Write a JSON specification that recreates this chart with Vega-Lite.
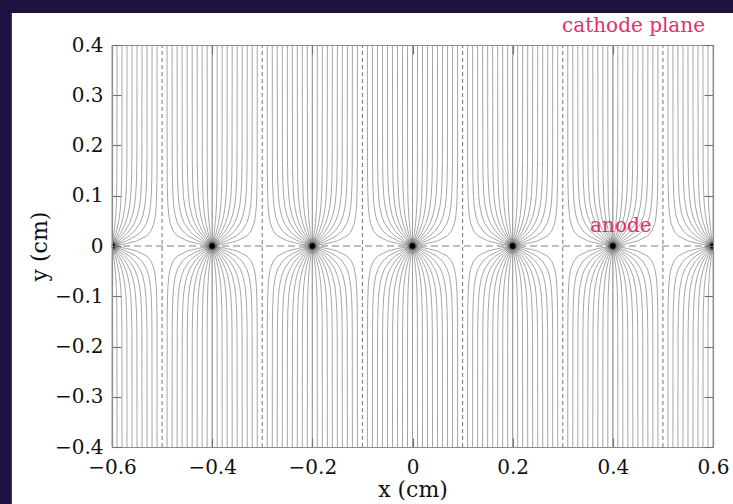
{
"$schema":"https://vega.github.io/schema/vega-lite/v6.json",
"autosize":{"type":"none"},
"width":601,"height":402,
"padding":{"left":112,"top":45,"right":20,"bottom":57},
"background":"#1d1240",
"data":{"values":[
{"l":0,"u":0,"y":0},{"l":0,"u":0,"y":0.4},
{"l":1,"u":0,"y":0},{"l":1,"u":0.0016,"y":0.01},{"l":1,"u":0.0031,"y":0.02},{"l":1,"u":0.0044,"y":0.03},{"l":1,"u":0.0061,"y":0.045},{"l":1,"u":0.0074,"y":0.06},{"l":1,"u":0.0085,"y":0.08},{"l":1,"u":0.0092,"y":0.1},{"l":1,"u":0.0097,"y":0.13},{"l":1,"u":0.0099,"y":0.17},{"l":1,"u":0.01,"y":0.4},
{"l":2,"u":0,"y":0},{"l":2,"u":0.0032,"y":0.01},{"l":2,"u":0.0063,"y":0.02},{"l":2,"u":0.009,"y":0.03},{"l":2,"u":0.0124,"y":0.045},{"l":2,"u":0.015,"y":0.06},{"l":2,"u":0.0172,"y":0.08},{"l":2,"u":0.0184,"y":0.1},{"l":2,"u":0.0194,"y":0.13},{"l":2,"u":0.0198,"y":0.17},{"l":2,"u":0.02,"y":0.4},
{"l":3,"u":0,"y":0},{"l":3,"u":0.005,"y":0.01},{"l":3,"u":0.0098,"y":0.02},{"l":3,"u":0.014,"y":0.03},{"l":3,"u":0.0191,"y":0.045},{"l":3,"u":0.0228,"y":0.06},{"l":3,"u":0.026,"y":0.08},{"l":3,"u":0.0278,"y":0.1},{"l":3,"u":0.0291,"y":0.13},{"l":3,"u":0.0298,"y":0.17},{"l":3,"u":0.03,"y":0.4},
{"l":4,"u":0,"y":0},{"l":4,"u":0.0072,"y":0.01},{"l":4,"u":0.0139,"y":0.02},{"l":4,"u":0.0197,"y":0.03},{"l":4,"u":0.0265,"y":0.045},{"l":4,"u":0.0313,"y":0.06},{"l":4,"u":0.0352,"y":0.08},{"l":4,"u":0.0374,"y":0.1},{"l":4,"u":0.039,"y":0.13},{"l":4,"u":0.0397,"y":0.17},{"l":4,"u":0.04,"y":0.4},
{"l":5,"u":0,"y":0},{"l":5,"u":0.005,"y":0.005},{"l":5,"u":0.0098,"y":0.01},{"l":5,"u":0.0188,"y":0.02},{"l":5,"u":0.0263,"y":0.03},{"l":5,"u":0.0348,"y":0.045},{"l":5,"u":0.0404,"y":0.06},{"l":5,"u":0.0449,"y":0.08},{"l":5,"u":0.0472,"y":0.1},{"l":5,"u":0.0489,"y":0.13},{"l":5,"u":0.0497,"y":0.17},{"l":5,"u":0.05,"y":0.4},
{"l":6,"u":0,"y":0},{"l":6,"u":0.0068,"y":0.005},{"l":6,"u":0.0135,"y":0.01},{"l":6,"u":0.0253,"y":0.02},{"l":6,"u":0.0346,"y":0.03},{"l":6,"u":0.0444,"y":0.045},{"l":6,"u":0.0504,"y":0.06},{"l":6,"u":0.055,"y":0.08},{"l":6,"u":0.0574,"y":0.1},{"l":6,"u":0.059,"y":0.13},{"l":6,"u":0.0597,"y":0.17},{"l":6,"u":0.06,"y":0.4},
{"l":7,"u":0,"y":0},{"l":7,"u":0.0049,"y":0.0025},{"l":7,"u":0.0097,"y":0.005},{"l":7,"u":0.0189,"y":0.01},{"l":7,"u":0.0343,"y":0.02},{"l":7,"u":0.0453,"y":0.03},{"l":7,"u":0.0556,"y":0.045},{"l":7,"u":0.0615,"y":0.06},{"l":7,"u":0.0656,"y":0.08},{"l":7,"u":0.0677,"y":0.1},{"l":7,"u":0.0691,"y":0.13},{"l":7,"u":0.0698,"y":0.17},{"l":7,"u":0.07,"y":0.4},
{"l":8,"u":0,"y":0},{"l":8,"u":0.0077,"y":0.0025},{"l":8,"u":0.0151,"y":0.005},{"l":8,"u":0.0285,"y":0.01},{"l":8,"u":0.0479,"y":0.02},{"l":8,"u":0.0595,"y":0.03},{"l":8,"u":0.0688,"y":0.045},{"l":8,"u":0.0736,"y":0.06},{"l":8,"u":0.0768,"y":0.08},{"l":8,"u":0.0783,"y":0.1},{"l":8,"u":0.0794,"y":0.13},{"l":8,"u":0.0798,"y":0.17},{"l":8,"u":0.08,"y":0.4},
{"l":9,"u":0,"y":0},{"l":9,"u":0.0155,"y":0.0025},{"l":9,"u":0.0293,"y":0.005},{"l":9,"u":0.0495,"y":0.01},{"l":9,"u":0.0694,"y":0.02},{"l":9,"u":0.078,"y":0.03},{"l":9,"u":0.0838,"y":0.045},{"l":9,"u":0.0865,"y":0.06},{"l":9,"u":0.0883,"y":0.08},{"l":9,"u":0.0891,"y":0.1},{"l":9,"u":0.0897,"y":0.13},{"l":9,"u":0.0899,"y":0.17},{"l":9,"u":0.09,"y":0.4}
]},
"resolve":{"scale":{"x":"independent","y":"independent"}},
"layer":[
{"data":{"values":[{}]},"mark":{"type":"rect","fill":"#ffffff"},"encoding":{"x":{"datum":-0.8,"type":"quantitative","scale":{"domain":[-0.6,0.6]},"axis":null},"x2":{"datum":0.66},"y":{"datum":0.4637,"type":"quantitative","scale":{"domain":[-0.4,0.4]},"axis":null},"y2":{"datum":-0.52}}},

{"mark":"line","encoding":{"x":{"field":"u","type":"quantitative","scale":{"domain":[0,1.2]},"axis":null},"y":{"field":"y","type":"quantitative","scale":{"domain":[-0.4,0.4]},"axis":null},"detail":{"field":"l","type":"nominal"}}},
{"mark":"line","encoding":{"x":{"field":"u","type":"quantitative","scale":{"domain":[0,1.2]},"axis":null},"y":{"field":"y","type":"quantitative","scale":{"domain":[-0.4,0.4],"reverse":true},"axis":null},"detail":{"field":"l","type":"nominal"}}},
{"mark":"line","encoding":{"x":{"field":"u","type":"quantitative","scale":{"domain":[-0.2,1]},"axis":null},"y":{"field":"y","type":"quantitative","scale":{"domain":[-0.4,0.4]},"axis":null},"detail":{"field":"l","type":"nominal"}}},
{"mark":"line","encoding":{"x":{"field":"u","type":"quantitative","scale":{"domain":[-0.2,1]},"axis":null},"y":{"field":"y","type":"quantitative","scale":{"domain":[-0.4,0.4],"reverse":true},"axis":null},"detail":{"field":"l","type":"nominal"}}},
{"mark":"line","encoding":{"x":{"field":"u","type":"quantitative","scale":{"domain":[-0.4,0.8]},"axis":null},"y":{"field":"y","type":"quantitative","scale":{"domain":[-0.4,0.4]},"axis":null},"detail":{"field":"l","type":"nominal"}}},
{"mark":"line","encoding":{"x":{"field":"u","type":"quantitative","scale":{"domain":[-0.4,0.8]},"axis":null},"y":{"field":"y","type":"quantitative","scale":{"domain":[-0.4,0.4],"reverse":true},"axis":null},"detail":{"field":"l","type":"nominal"}}},
{"mark":"line","encoding":{"x":{"field":"u","type":"quantitative","scale":{"domain":[-0.6,0.6]},"axis":null},"y":{"field":"y","type":"quantitative","scale":{"domain":[-0.4,0.4]},"axis":null},"detail":{"field":"l","type":"nominal"}}},
{"mark":"line","encoding":{"x":{"field":"u","type":"quantitative","scale":{"domain":[-0.6,0.6]},"axis":null},"y":{"field":"y","type":"quantitative","scale":{"domain":[-0.4,0.4],"reverse":true},"axis":null},"detail":{"field":"l","type":"nominal"}}},
{"mark":"line","encoding":{"x":{"field":"u","type":"quantitative","scale":{"domain":[-0.8,0.4]},"axis":null},"y":{"field":"y","type":"quantitative","scale":{"domain":[-0.4,0.4]},"axis":null},"detail":{"field":"l","type":"nominal"}}},
{"mark":"line","encoding":{"x":{"field":"u","type":"quantitative","scale":{"domain":[-0.8,0.4]},"axis":null},"y":{"field":"y","type":"quantitative","scale":{"domain":[-0.4,0.4],"reverse":true},"axis":null},"detail":{"field":"l","type":"nominal"}}},
{"mark":"line","encoding":{"x":{"field":"u","type":"quantitative","scale":{"domain":[-1,0.2]},"axis":null},"y":{"field":"y","type":"quantitative","scale":{"domain":[-0.4,0.4]},"axis":null},"detail":{"field":"l","type":"nominal"}}},
{"mark":"line","encoding":{"x":{"field":"u","type":"quantitative","scale":{"domain":[-1,0.2]},"axis":null},"y":{"field":"y","type":"quantitative","scale":{"domain":[-0.4,0.4],"reverse":true},"axis":null},"detail":{"field":"l","type":"nominal"}}},

{"mark":"line","encoding":{"x":{"field":"u","type":"quantitative","scale":{"domain":[-1,0.2],"reverse":true},"axis":null},"y":{"field":"y","type":"quantitative","scale":{"domain":[-0.4,0.4]},"axis":null},"detail":{"field":"l","type":"nominal"}}},
{"mark":"line","encoding":{"x":{"field":"u","type":"quantitative","scale":{"domain":[-1,0.2],"reverse":true},"axis":null},"y":{"field":"y","type":"quantitative","scale":{"domain":[-0.4,0.4],"reverse":true},"axis":null},"detail":{"field":"l","type":"nominal"}}},
{"mark":"line","encoding":{"x":{"field":"u","type":"quantitative","scale":{"domain":[-0.8,0.4],"reverse":true},"axis":null},"y":{"field":"y","type":"quantitative","scale":{"domain":[-0.4,0.4]},"axis":null},"detail":{"field":"l","type":"nominal"}}},
{"mark":"line","encoding":{"x":{"field":"u","type":"quantitative","scale":{"domain":[-0.8,0.4],"reverse":true},"axis":null},"y":{"field":"y","type":"quantitative","scale":{"domain":[-0.4,0.4],"reverse":true},"axis":null},"detail":{"field":"l","type":"nominal"}}},
{"mark":"line","encoding":{"x":{"field":"u","type":"quantitative","scale":{"domain":[-0.6,0.6],"reverse":true},"axis":null},"y":{"field":"y","type":"quantitative","scale":{"domain":[-0.4,0.4]},"axis":null},"detail":{"field":"l","type":"nominal"}}},
{"mark":"line","encoding":{"x":{"field":"u","type":"quantitative","scale":{"domain":[-0.6,0.6],"reverse":true},"axis":null},"y":{"field":"y","type":"quantitative","scale":{"domain":[-0.4,0.4],"reverse":true},"axis":null},"detail":{"field":"l","type":"nominal"}}},
{"mark":"line","encoding":{"x":{"field":"u","type":"quantitative","scale":{"domain":[-0.4,0.8],"reverse":true},"axis":null},"y":{"field":"y","type":"quantitative","scale":{"domain":[-0.4,0.4]},"axis":null},"detail":{"field":"l","type":"nominal"}}},
{"mark":"line","encoding":{"x":{"field":"u","type":"quantitative","scale":{"domain":[-0.4,0.8],"reverse":true},"axis":null},"y":{"field":"y","type":"quantitative","scale":{"domain":[-0.4,0.4],"reverse":true},"axis":null},"detail":{"field":"l","type":"nominal"}}},
{"mark":"line","encoding":{"x":{"field":"u","type":"quantitative","scale":{"domain":[-0.2,1],"reverse":true},"axis":null},"y":{"field":"y","type":"quantitative","scale":{"domain":[-0.4,0.4]},"axis":null},"detail":{"field":"l","type":"nominal"}}},
{"mark":"line","encoding":{"x":{"field":"u","type":"quantitative","scale":{"domain":[-0.2,1],"reverse":true},"axis":null},"y":{"field":"y","type":"quantitative","scale":{"domain":[-0.4,0.4],"reverse":true},"axis":null},"detail":{"field":"l","type":"nominal"}}},
{"mark":"line","encoding":{"x":{"field":"u","type":"quantitative","scale":{"domain":[0,1.2],"reverse":true},"axis":null},"y":{"field":"y","type":"quantitative","scale":{"domain":[-0.4,0.4]},"axis":null},"detail":{"field":"l","type":"nominal"}}},
{"mark":"line","encoding":{"x":{"field":"u","type":"quantitative","scale":{"domain":[0,1.2],"reverse":true},"axis":null},"y":{"field":"y","type":"quantitative","scale":{"domain":[-0.4,0.4],"reverse":true},"axis":null},"detail":{"field":"l","type":"nominal"}}},

{"data":{"values":[{"b":-0.5},{"b":-0.3},{"b":-0.1},{"b":0.1},{"b":0.3},{"b":0.5}]},
 "mark":{"type":"rule","stroke":"#808080","strokeWidth":1.1,"strokeDash":[4,3]},
 "encoding":{
  "x":{"field":"b","type":"quantitative","scale":{"domain":[-0.6,0.6]},"axis":{"orient":"bottom","zindex":1,"values":[-0.6,-0.4,-0.2,0,0.2,0.4,0.6],"format":"~g","tickSize":-9,"labelPadding":19,"title":"x (cm)","titlePadding":2}},
  "y":{"datum":-0.4,"type":"quantitative","scale":{"domain":[-0.4,0.4]},"axis":{"orient":"left","zindex":1,"values":[-0.4,-0.3,-0.2,-0.1,0,0.1,0.2,0.3,0.4],"format":"~g","tickSize":-9,"labelPadding":18,"title":"y (cm)","titlePadding":3}},
  "y2":{"datum":0.4}}},
{"data":{"values":[{"h":0}]},
 "mark":{"type":"rule","stroke":"#808080","strokeWidth":1.1,"strokeDash":[7,4]},
 "encoding":{
  "x":{"datum":-0.6,"type":"quantitative","scale":{"domain":[-0.6,0.6]},"axis":{"orient":"top","zindex":1,"values":[-0.6,-0.4,-0.2,0,0.2,0.4,0.6],"tickSize":-9,"labels":false,"title":null}},
  "x2":{"datum":0.6},
  "y":{"field":"h","type":"quantitative","scale":{"domain":[-0.4,0.4]},"axis":{"orient":"right","zindex":1,"values":[-0.4,-0.3,-0.2,-0.1,0,0.1,0.2,0.3,0.4],"tickSize":-9,"labels":false,"title":null}}}},

{"data":{"values":[{"w":-0.6},{"w":-0.4},{"w":-0.2},{"w":0},{"w":0.2},{"w":0.4},{"w":0.6}]},
 "mark":{"type":"circle","clip":true,"color":"#555","opacity":0.22,"size":260},
 "encoding":{"x":{"field":"w","type":"quantitative","scale":{"domain":[-0.6,0.6]},"axis":null},"y":{"datum":0,"type":"quantitative","scale":{"domain":[-0.4,0.4]},"axis":null}}},
{"data":{"values":[{"w":-0.6},{"w":-0.4},{"w":-0.2},{"w":0},{"w":0.2},{"w":0.4},{"w":0.6}]},
 "mark":{"type":"circle","clip":true,"color":"#333","opacity":0.35,"size":100},
 "encoding":{"x":{"field":"w","type":"quantitative","scale":{"domain":[-0.6,0.6]},"axis":null},"y":{"datum":0,"type":"quantitative","scale":{"domain":[-0.4,0.4]},"axis":null}}},
{"data":{"values":[{"w":-0.6},{"w":-0.4},{"w":-0.2},{"w":0},{"w":0.2},{"w":0.4},{"w":0.6}]},
 "mark":{"type":"circle","clip":true,"color":"#000","opacity":1,"size":34},
 "encoding":{"x":{"field":"w","type":"quantitative","scale":{"domain":[-0.6,0.6]},"axis":null},"y":{"datum":0,"type":"quantitative","scale":{"domain":[-0.4,0.4]},"axis":null}}},

{"data":{"values":[{"t":"cathode plane"}]},
 "mark":{"type":"text","font":"DejaVu Serif","fontSize":20,"color":"#e0306e","align":"right","baseline":"alphabetic"},
 "encoding":{"text":{"field":"t"},"x":{"datum":0.584,"type":"quantitative","scale":{"domain":[-0.6,0.6]},"axis":null},"y":{"datum":0.426,"type":"quantitative","scale":{"domain":[-0.4,0.4]},"axis":null}}},
{"data":{"values":[{"t":"anode"}]},
 "mark":{"type":"text","font":"DejaVu Serif","fontSize":20,"color":"#e0306e","align":"center","baseline":"alphabetic"},
 "encoding":{"text":{"field":"t"},"x":{"datum":0.416,"type":"quantitative","scale":{"domain":[-0.6,0.6]},"axis":null},"y":{"datum":0.028,"type":"quantitative","scale":{"domain":[-0.4,0.4]},"axis":null}}}
],
"config":{
 "view":{"stroke":null},
 "axis":{"labelFont":"DejaVu Serif","labelFontSize":20,"labelColor":"#111111","titleFont":"DejaVu Serif","titleFontSize":22,"titleFontWeight":"normal","titleColor":"#111111","tickColor":"#707070","tickWidth":1.1,"domainColor":"#8c8c8c","domainWidth":1.2,"grid":false,"labelFlush":false},
 "line":{"stroke":"#9c9c9c","strokeWidth":0.9}
}
}
